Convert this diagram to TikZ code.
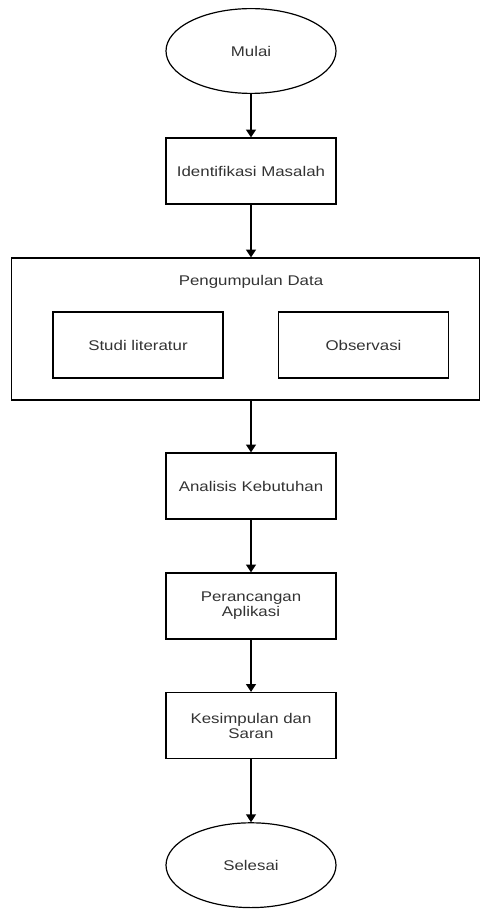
\documentclass[tikz,border=0pt]{standalone}
\usepackage{fontspec}
\setmainfont{Liberation Sans}[FakeStretch=1.2]
\usetikzlibrary{positioning,
        shapes.geometric,
        arrows.meta}
\usepackage{xcolor}
\definecolor{teksabu}{HTML}{333333}

\begin{document}
\begin{tikzpicture}[font=\fontsize{10}{10.7}\selectfont,
        proses/.style={rectangle,draw,line width=0.85pt,minimum width=4.25cm,minimum height=1.65cm,inner sep=0pt,align=center,text=teksabu},
        terminal/.style={ellipse,draw,line width=0.85pt,minimum width=4.25cm,minimum height=2.12cm,inner sep=0pt,text=teksabu},
        panah/.style={-{Triangle[width=7pt,length=5.5pt]},line width=0.85pt}]
        \useasboundingbox (0,0) rectangle (12.025,-22.725);
        \node [terminal] (mulai) at (6.275,-1.275) {Mulai};
        \node [proses] (identifikasi) at (6.275,-4.275) {Identifikasi Masalah};
        \node [rectangle,draw,line width=0.85pt,minimum width=11.7cm,minimum height=3.55cm,inner sep=0pt] (pengumpulan) at (6.13,-8.225) {};
        \node [text=teksabu] (judul) at (6.275,-7.04) {Pengumpulan Data};
        \node [proses] (studi) at (3.45,-8.625) {Studi literatur};
        \node [proses] (observasi) at (9.0875,-8.625) {Observasi};
        \node [proses] (analisis) at (6.275,-12.15) {Analisis Kebutuhan};
        \node [proses] (perancangan) at (6.275,-15.15) {Perancangan\\Aplikasi};
        \node [proses] (kesimpulan) at (6.275,-18.1375) {Kesimpulan dan\\Saran};
        \node [terminal] (selesai) at (6.275,-21.63) {Selesai};
        
        \draw [panah] (mulai) -- (identifikasi);
        \draw [panah] (identifikasi) -- (identifikasi |- pengumpulan.north);
        \draw [panah] (analisis |- pengumpulan.south) -- (analisis);
        \draw [panah] (analisis) -- (perancangan);
        \draw [panah] (perancangan) -- (kesimpulan);
        \draw [panah] (kesimpulan) -- (selesai);
\end{tikzpicture}
\end{document}
